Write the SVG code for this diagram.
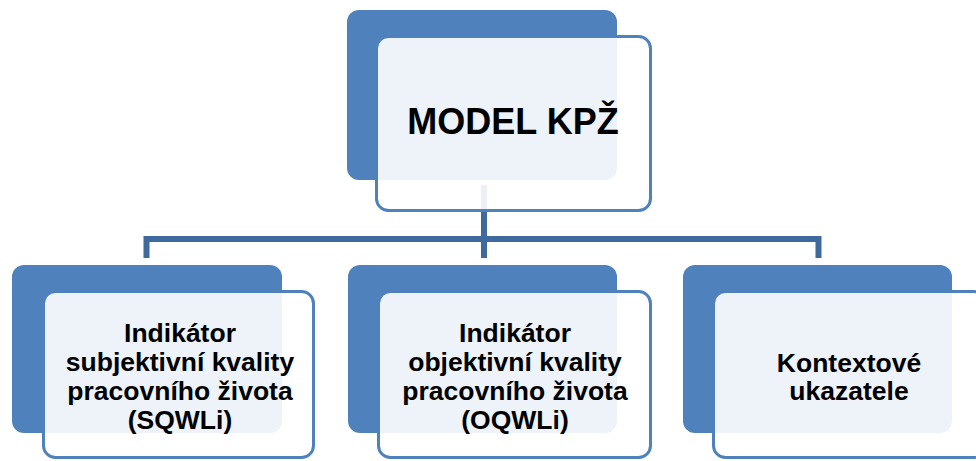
<svg xmlns="http://www.w3.org/2000/svg" width="976" height="461" viewBox="0 0 976 461">
<style>
.back{fill:#4F81BD;}
.front{fill:#FFFFFF;fill-opacity:0.9;stroke:#4F81BD;stroke-width:3;}
.conn{fill:none;stroke:#3E6A9E;stroke-width:6;}
.lbl{font-family:"Liberation Sans",Arial,sans-serif;font-weight:bold;font-size:26.5px;fill:#000;text-anchor:middle;}
.title{font-family:"Liberation Sans",Arial,sans-serif;font-weight:bold;font-size:36px;fill:#000;text-anchor:middle;}
</style>
<rect width="976" height="461" fill="#FFFFFF"/>
<g id="connectors">
<path class="conn" d="M484 185 V258"/>
<path class="conn" d="M146.5 258 V239 H818.5 V258"/>
</g>
<g id="node-model">
<rect class="back" x="347" y="10" width="270" height="170" rx="12"/>
<rect class="front" x="376.5" y="36.5" width="274" height="174" rx="12"/>
<text class="title" x="513" y="134">MODEL KPŽ</text>
</g>
<g id="node-sqwli">
<rect class="back" x="12" y="265" width="270" height="168" rx="12"/>
<rect class="front" x="43.5" y="291.5" width="270" height="166" rx="12"/>
<text class="lbl" x="180" y="342">Indikátor</text>
<text class="lbl" x="180" y="371">subjektivní kvality</text>
<text class="lbl" x="180" y="400">pracovního života</text>
<text class="lbl" x="180" y="429">(SQWLi)</text>
</g>
<g id="node-oqwli">
<rect class="back" x="348" y="265" width="269" height="168" rx="12"/>
<rect class="front" x="378.5" y="291.5" width="272" height="166" rx="12"/>
<text class="lbl" x="515" y="342">Indikátor</text>
<text class="lbl" x="515" y="371">objektivní kvality</text>
<text class="lbl" x="515" y="400">pracovního života</text>
<text class="lbl" x="515" y="429">(OQWLi)</text>
</g>
<g id="node-kontext">
<rect class="back" x="683" y="265" width="269" height="168" rx="12"/>
<rect class="front" x="713.5" y="291.5" width="272" height="166" rx="12"/>
<text class="lbl" x="849" y="372">Kontextové</text>
<text class="lbl" x="849" y="400">ukazatele</text>
</g>
</svg>
